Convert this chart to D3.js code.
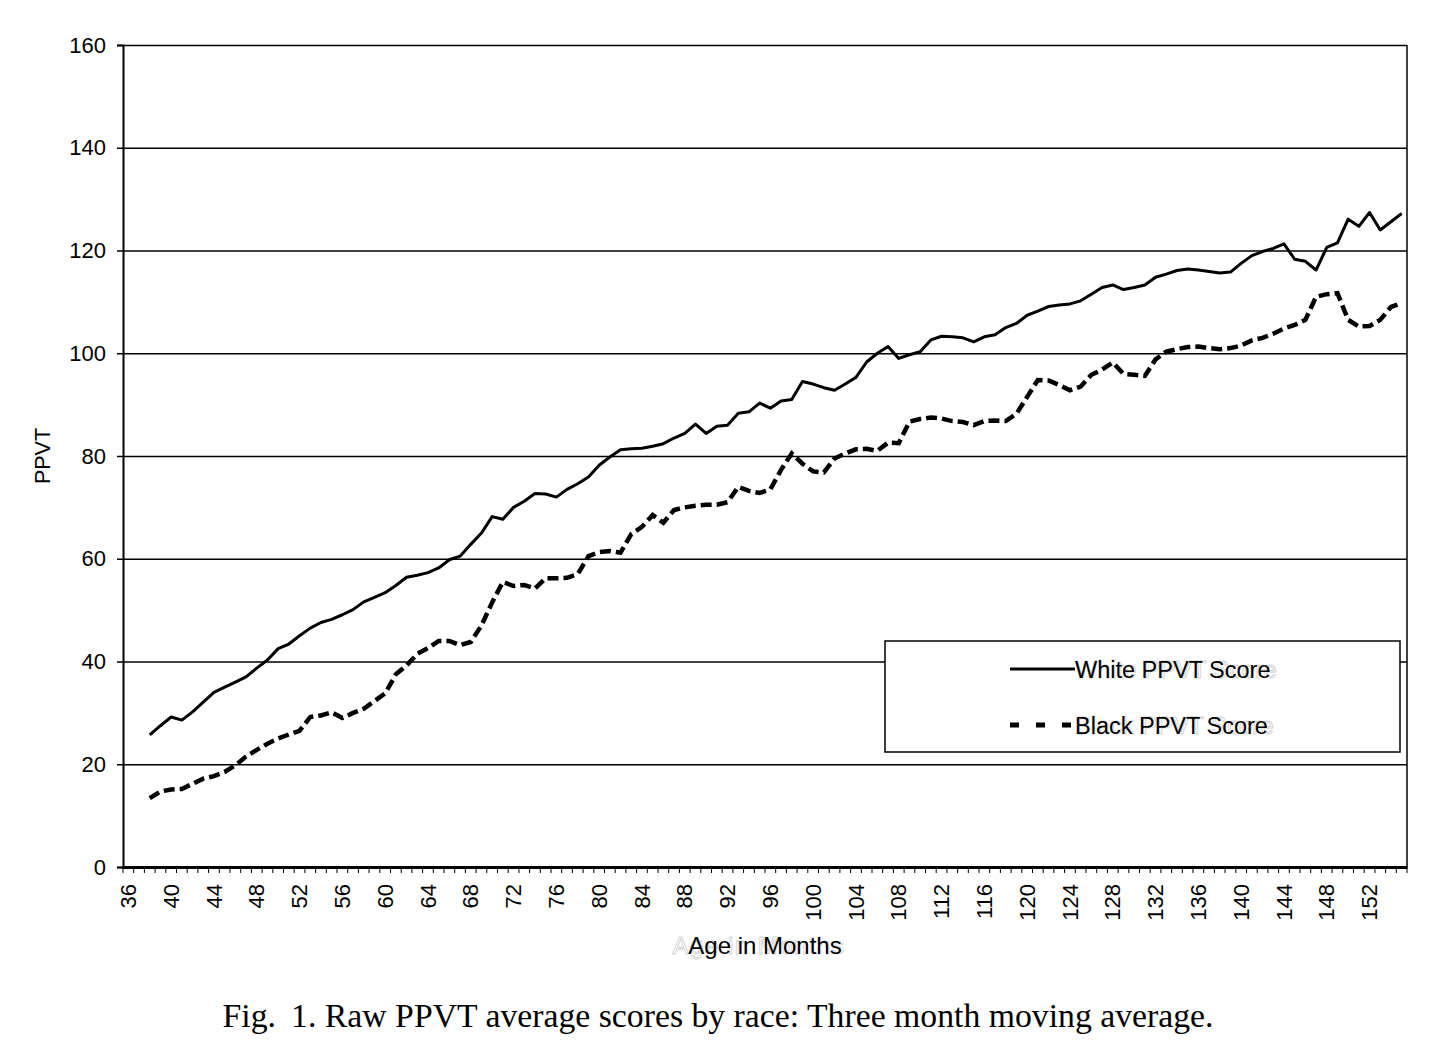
<!DOCTYPE html>
<html>
<head>
<meta charset="utf-8">
<script src="https://cdn.jsdelivr.net/npm/d3@7"></script>
<style>
  body { margin: 0; background: #fff; }
  svg { display: block; }
</style>
</head>
<body>
<div id="chart"></div>
<script>
const width = 1456;
const height = 1052;

// months 36..155 on the category axis, data starts at 38 (3 month moving average)
const months = d3.range(36, 156);
const tickMonths = d3.range(36, 156, 4);
const yTicks = [0, 20, 40, 60, 80, 100, 120, 140, 160];

const dataMonths = d3.range(38, 156);

const white = [
  25.7, 27.5, 29.2, 28.6, 30.2, 32.1, 34.0, 35.0, 36.0, 37.0,
  38.7, 40.3, 42.5, 43.4, 45.0, 46.5, 47.6, 48.2, 49.1, 50.1,
  51.6, 52.5, 53.4, 54.8, 56.4, 56.8, 57.3, 58.2, 59.8, 60.5,
  62.8, 65.0, 68.2, 67.7, 70.0, 71.2, 72.7, 72.6, 72.0, 73.5,
  74.6, 75.9, 78.2, 79.8, 81.2, 81.4, 81.5, 81.9, 82.4, 83.5,
  84.4, 86.2, 84.4, 85.8, 86.0, 88.3, 88.6, 90.3, 89.3, 90.7,
  91.0, 94.5, 94.0, 93.3, 92.8, 94.0, 95.3, 98.3, 100.0, 101.3,
  99.0, 99.7, 100.3, 102.6, 103.3, 103.2, 103.0, 102.2, 103.2, 103.6,
  105.0, 105.8, 107.4, 108.2, 109.1, 109.4, 109.6, 110.2, 111.5, 112.8,
  113.3, 112.4, 112.8, 113.3, 114.8, 115.4, 116.1, 116.4, 116.2, 115.9,
  115.6, 115.8, 117.5, 119.0, 119.8, 120.4, 121.3, 118.3, 117.9, 116.2,
  120.6, 121.5, 126.1, 124.7, 127.4, 124.0, 125.6, 127.2
];

const black = [
  13.4, 14.7, 15.1, 15.2, 16.2, 17.2, 17.7, 18.5, 19.8, 21.5,
  22.8, 24.0, 25.0, 25.8, 26.5, 29.2, 29.5, 30.1, 29.0, 30.0,
  30.8, 32.3, 33.8, 37.5, 39.2, 41.5, 42.6, 44.0, 44.0, 43.2,
  43.8, 47.0, 51.5, 55.5, 54.7, 54.9, 54.2, 56.2, 56.2, 56.3,
  57.0, 60.5, 61.3, 61.5, 61.2, 64.8, 66.2, 68.5, 67.0, 69.5,
  70.0, 70.3, 70.5, 70.5, 71.0, 74.0, 73.2, 72.8, 73.5, 77.3,
  80.5, 78.5, 77.0, 76.8, 79.5, 80.5, 81.3, 81.4, 81.0, 82.6,
  82.5, 86.7, 87.2, 87.5, 87.3, 86.8, 86.6, 86.0, 86.8, 86.9,
  86.8, 88.2, 91.5, 94.8, 94.7, 93.8, 92.8, 93.5, 95.8, 96.8,
  98.2, 96.0, 95.8, 95.6, 98.8, 100.3, 100.8, 101.2, 101.3, 101.0,
  100.8, 101.0, 101.5, 102.5, 103.0, 103.8, 104.8, 105.5, 106.5, 111.0,
  111.5, 111.7, 106.5, 105.2, 105.3, 106.5, 109.0, 109.8
];

const seriesNames = ["White PPVT Score", "Black PPVT Score"];

const margin = { left: 123, right: 49, top: 45, bottom: 185 };
const plotW = width - margin.left - margin.right;
const plotH = height - margin.top - margin.bottom;
const sans = "'Liberation Sans', Arial, sans-serif";

const svg = d3.select("#chart")
    .append("svg")
    .attr("width", width)
    .attr("height", height);

const x = d3.scaleBand()
    .domain(months)
    .range([margin.left, margin.left + plotW])
    .padding(0);

const y = d3.scaleLinear()
    .domain([0, 160])
    .range([margin.top + plotH, margin.top]);

const cx = m => x(m) + x.bandwidth() / 2;

// gridlines
svg.append("g")
    .attr("transform", `translate(${margin.left},0)`)
    .call(d3.axisLeft(y).tickValues(yTicks).tickSize(-plotW).tickFormat(""))
    .call(g => g.select(".domain").remove())
    .selectAll("line")
    .attr("stroke", "#000")
    .attr("stroke-width", 1.5);

// plot area border (right side)
svg.append("line")
    .attr("x1", margin.left + plotW).attr("x2", margin.left + plotW)
    .attr("y1", y(160)).attr("y2", y(0))
    .attr("stroke", "#000")
    .attr("stroke-width", 1.5);

// y axis
const yAxis = svg.append("g")
    .attr("transform", `translate(${margin.left},0)`)
    .call(d3.axisLeft(y).tickValues(yTicks).tickSize(6).tickPadding(11));
yAxis.select(".domain").attr("stroke-width", 2);
yAxis.selectAll(".tick line").attr("stroke-width", 1.5);
yAxis.selectAll("text")
    .style("font-family", sans)
    .style("font-size", "22px")
    .attr("fill", "#000");

// x axis: minor ticks at every category boundary
svg.append("g")
    .selectAll("line")
    .data(months.concat([null]))
    .enter()
    .append("line")
    .attr("x1", d => d === null ? x.range()[1] : x(d))
    .attr("x2", d => d === null ? x.range()[1] : x(d))
    .attr("y1", y(0))
    .attr("y2", y(0) + 6)
    .attr("stroke", "#000")
    .attr("stroke-width", 1);

const xAxis = svg.append("g")
    .attr("transform", `translate(0,${y(0)})`)
    .call(d3.axisBottom(x).tickValues(tickMonths).tickSize(0).tickPadding(0));
xAxis.select(".domain").attr("stroke-width", 3);
xAxis.selectAll("text")
    .style("font-family", sans)
    .style("font-size", "22px")
    .attr("fill", "#000")
    .attr("text-anchor", "end")
    .attr("dy", "0.35em")
    .attr("transform", "translate(0,17) rotate(-90)")
    .attr("y", 0)
    .attr("x", 0);

// lines
const line = d3.line()
    .x((d, i) => cx(dataMonths[i]))
    .y(d => y(d));

svg.append("path")
    .datum(white)
    .attr("d", line)
    .attr("fill", "none")
    .attr("stroke", "#000")
    .attr("stroke-width", 3)
    .attr("stroke-linejoin", "round");

svg.append("path")
    .datum(black)
    .attr("d", line)
    .attr("fill", "none")
    .attr("stroke", "#000")
    .attr("stroke-width", 4.5)
    .attr("stroke-dasharray", "11,5");

// axis titles
svg.append("text")
    .attr("transform", `translate(50,${margin.top + plotH / 2}) rotate(-90)`)
    .attr("text-anchor", "middle")
    .style("font-family", sans)
    .style("font-size", "21.5px")
    .text("PPVT");

svg.append("text")
    .attr("x", 759)
    .attr("y", 954)
    .attr("text-anchor", "middle")
    .attr("fill", "none")
    .attr("stroke", "#cfcfcf")
    .attr("stroke-width", 0.8)
    .attr("letter-spacing", "1.5px")
    .style("font-family", sans)
    .style("font-size", "24px")
    .text("Age in Months");

svg.append("text")
    .attr("x", 765)
    .attr("y", 954)
    .attr("text-anchor", "middle")
    .style("font-family", sans)
    .style("font-size", "24px")
    .text("Age in Months");

// legend
const legend = svg.append("g").attr("transform", "translate(885,641)");
legend.append("rect")
    .attr("width", 515)
    .attr("height", 111)
    .attr("fill", "#fff")
    .attr("stroke", "#000")
    .attr("stroke-width", 1.5);

const legendRows = [
  { name: seriesNames[0], dash: null, w: 3, yy: 28 },
  { name: seriesNames[1], dash: "9,17", w: 5, yy: 84 }
];

legendRows.forEach(r => {
    legend.append("line")
        .attr("x1", 125).attr("x2", 190)
        .attr("y1", r.yy).attr("y2", r.yy)
        .attr("stroke", "#000")
        .attr("stroke-width", r.w)
        .attr("stroke-dasharray", r.dash);
    legend.append("text")
        .attr("x", 190)
        .attr("y", r.yy + 8.5)
        .attr("fill", "none")
        .attr("stroke", "#cfcfcf")
        .attr("stroke-width", 0.8)
        .attr("letter-spacing", "0.4px")
        .style("font-family", sans)
        .style("font-size", "23.5px")
        .text(r.name);
    legend.append("text")
        .attr("x", 190)
        .attr("y", r.yy + 8.5)
        .style("font-family", sans)
        .style("font-size", "23.5px")
        .text(r.name);
});

// caption
svg.append("text")
    .attr("x", 718)
    .attr("y", 1027)
    .attr("text-anchor", "middle")
    .attr("textLength", 991)
    .attr("lengthAdjust", "spacingAndGlyphs")
    .style("font-family", "'Liberation Serif', 'Times New Roman', serif")
    .style("font-size", "34px")
    .style("white-space", "pre")
    .text("Fig.\u2009 1. Raw PPVT average scores by race: Three month moving average.");
</script>
</body>
</html>
